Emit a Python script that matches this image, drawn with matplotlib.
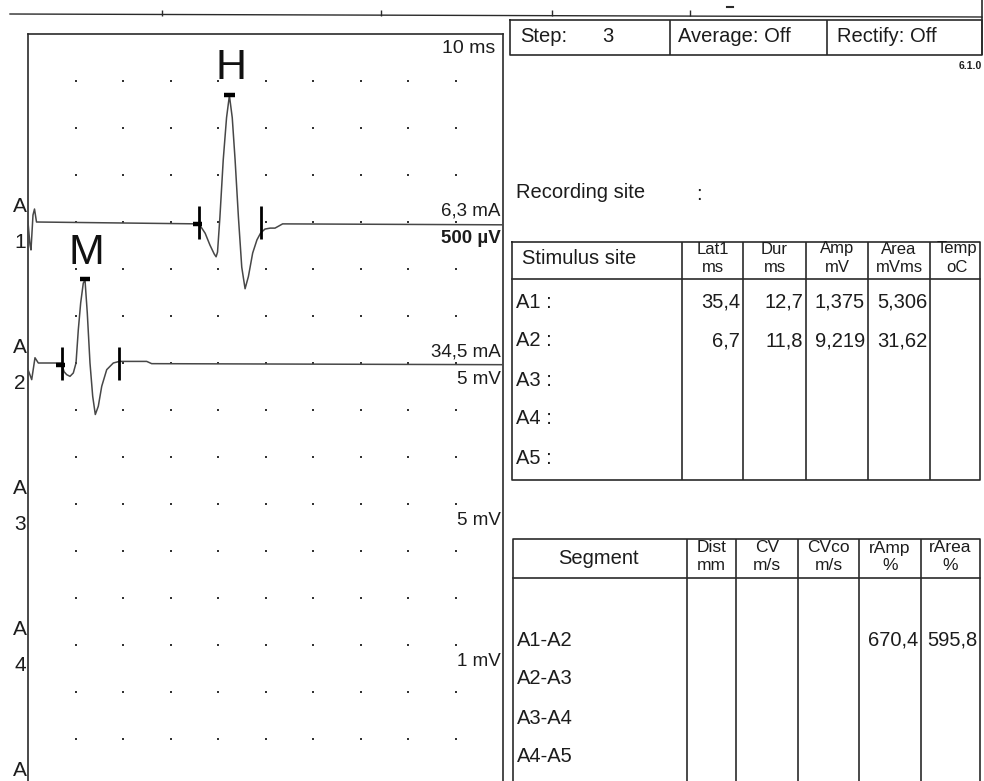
import matplotlib
matplotlib.use("Agg")
import matplotlib.pyplot as plt
import numpy as np

W, H = 984, 781
PX_DIV = 47.0          # pixels per grid division on screen

# --- traces: time in ms, amplitude in channel units ---
a1_t = [0, 0.42, 0.63, 1.05, 1.37, 1.79, 36.0, 37.3, 38.3, 39.2, 39.6, 39.9,
        40.4, 41.1, 41.8, 42.4, 43.0, 43.6, 44.3, 45.0, 45.7, 46.4, 47.3,
        48.2, 49.0, 49.9, 51.0, 52.0, 52.9, 53.6, 100]
a1_uv = [0, -244, -297, 74, 138, 0, -20, -120, -245, -340, -370, -320,
         50, 660, 1110, 1345, 1110, 660, 50, -480, -710, -580, -330,
         -190, -115, -75, -65, -65, -40, -20, -30]

a2_t = [0, 0.78, 1.47, 2.17, 7.09, 7.58, 8.15, 8.84, 9.54, 10.11, 10.59,
        11.09, 11.64, 12.0, 12.48, 13.05, 13.62, 14.17, 14.8, 15.52, 16.57,
        17.96, 19.22, 24.99, 26.04, 100]
a2_mv = [-0.7, -1.77, 0.56, 0, 0, -0.92, -1.24, -1.42, -1.06, 0, 3.53,
         6.39, 8.5, 8.82, 5.33, 0, -3.54, -5.48, -4.6, -2.48, -0.71,
         0, 0.17, 0.17, -0.07, -0.18]

chan_num = ["1", "2", "3", "4", ""]
chan_base = [-4, -7, -10, -13, -16]
stim_lbl = ["6,3 mA", "34,5 mA", "", "", ""]
sens_lbl = ["500 µV", "5 mV", "5 mV", "1 mV", ""]

cursor_on = [36.0, 7.09]
cursor_off = [49.05, 19.22]
wave_name = ["H", "M"]

# --- report texts ---
step_txt = ["Step:", "3", "Average: Off", "Rectify: Off"]
stim_hdr = [("Lat1", "ms"), ("Dur", "ms"), ("Amp", "mV"), ("Area", "mVms"), ("Temp", "oC")]
stim_site = ["A1", "A2", "A3", "A4", "A5"]
lat1 = [35.4, 6.7]
dur = [12.7, 11.8]
amp = [1.375, 9.219]
area = [5.306, 31.62]
seg_hdr = [("Dist", "mm"), ("CV", "m/s"), ("CVco", "m/s"), ("rAmp", "%"), ("rArea", "%")]
segments = ["A1-A2", "A2-A3", "A3-A4", "A4-A5"]
ramp = [670.4]
rarea = [595.8]

FONT = ["Liberation Sans", "DejaVu Sans"]
INK = "#1c1c1c"
LINE = "#2a2a2a"
TXT = 14.5        # report text size
HDR = 12          # small two-line column headers

fig = plt.figure(figsize=(W / 100, H / 100), dpi=100)
fig.patch.set_facecolor("white")

# ---------------- waveform panel ----------------
ax = fig.add_axes([28 / W, 0, 475 / W, 747 / H])
ax.set_xlim(0, 100)
ax.set_ylim(-747 / PX_DIV, 0)
ax.set_xticks([])
ax.set_yticks([])
ax.spines["bottom"].set_visible(False)
for s in ["left", "top", "right"]:
    ax.spines[s].set_linewidth(1.2)
    ax.spines[s].set_color(LINE)

gx, gy = np.meshgrid(np.arange(10, 100, 10), np.arange(-1, -16, -1))
ax.plot(gx.ravel(), gy.ravel(), "s", ms=1.6, color="#333333", mew=0)

traces = [(a1_t, np.array(a1_uv) / 500.0), (a2_t, np.array(a2_mv) / 5.0)]
for i, (t, v) in enumerate(traces):
    b = chan_base[i]
    ax.plot(t, b + v, color="#474747", lw=1.1, zorder=3)
    # latency cursors
    for c in (cursor_on[i], cursor_off[i]):
        ax.plot([c, c], [b - 0.36, b + 0.34], color="k", lw=2.0,
                solid_capstyle="butt", zorder=4)
    ax.plot([cursor_on[i] - 1.3, cursor_on[i] + 0.7], [b - 0.05, b - 0.05],
            color="k", lw=3.2, solid_capstyle="butt", zorder=4)
    # peak marker and wave name
    k = int(np.argmax(v))
    ax.plot([t[k] - 1.1, t[k] + 1.1], [b + v[k] + 0.02] * 2, color="k", lw=3.2,
            solid_capstyle="butt", zorder=4)
    ax.text(t[k] + 0.3, b + v[k] + 0.58, wave_name[i], fontsize=31,
            family=FONT, ha="center", va="center", color="#111")

for i, b in enumerate(chan_base):
    ax.text(-1.7, b + 0.34, "A", fontsize=15, family=FONT, ha="center",
            va="center", color=INK, clip_on=False)
    if chan_num[i]:
        ax.text(-1.7, b - 0.44, chan_num[i], fontsize=15, family=FONT,
                ha="center", va="center", color=INK, clip_on=False)
    if stim_lbl[i]:
        ax.text(99.5, b + 0.24, stim_lbl[i], fontsize=13.5, family=FONT,
                ha="right", va="center", color=INK)
    if sens_lbl[i]:
        ax.text(99.5, b - 0.35, sens_lbl[i], fontsize=13.5, family=FONT,
                ha="right", va="center", color=INK,
                fontweight="semibold" if i == 0 else "normal")
ax.text(98.3, -0.31, "10 ms", fontsize=14, family=FONT, ha="right",
        va="center", color=INK)

# ---------------- report side (screen pixel layout) ----------------
ov = fig.add_axes([0, 0, 1, 1])
ov.set_xlim(0, W)
ov.set_ylim(H, 0)
ov.axis("off")
ov.patch.set_alpha(0)


def box(x0, x1, y0, y1):
    ov.plot([x0, x1, x1, x0, x0], [y0, y0, y1, y1, y0], color=LINE, lw=1.2)


# top ruler
ov.plot([10, 982], [14, 17], color=LINE, lw=1.0)
ov.vlines([162, 381, 552, 690], 10, 16, color=LINE, lw=1.0)
ov.vlines([982], 0, 55, color=LINE, lw=1.2)
ov.plot([727, 733], [7, 7], color=LINE, lw=1.5)

# step / average / rectify strip
box(510, 982, 20, 55)
ov.vlines([670, 827], 20, 55, color=LINE, lw=1.2)
for x, s, ha in zip([520, 608, 678, 837], step_txt, ["left", "center", "left", "left"]):
    ov.text(x, 37, s, fontsize=TXT, family=FONT, ha=ha, va="center", color=INK)
ov.text(982, 66, "6.1.0", fontsize=7.5, family=FONT, fontweight="bold",
        ha="right", va="center", color=INK)

ov.text(516, 193, "Recording site", fontsize=TXT, family=FONT, ha="left",
        va="center", color=INK)
ov.text(699, 195, ":", fontsize=TXT, family=FONT, ha="center", va="center",
        color=INK)

# stimulus table
s_cols = [682, 743, 806, 868, 930, 980]
box(512, 980, 242, 480)
ov.plot([512, 980], [279, 279], color=LINE, lw=1.2)
ov.vlines(s_cols[:-1], 242, 480, color=LINE, lw=1.2)
ov.text(522, 259, "Stimulus site", fontsize=TXT, family=FONT, ha="left",
        va="center", color=INK)
for j, (h1, h2) in enumerate(stim_hdr):
    xc = (s_cols[j] + s_cols[j + 1]) / 2 + (2 if j == 4 else 0)
    ov.text(xc, 249, h1, fontsize=HDR, family=FONT, ha="center", va="center", color=INK)
    ov.text(xc, 267, h2, fontsize=HDR, family=FONT, ha="center", va="center", color=INK)
for i, s in enumerate(stim_site):
    ov.text(516, 302 + 39 * i, s + " :", fontsize=TXT, family=FONT,
            ha="left", va="center", color=INK)
cols = [(lat1, "{:.1f}"), (dur, "{:.1f}"), (amp, "{:.3f}"), (area, "{:.4g}")]
for j, (vals, fmt) in enumerate(cols):
    for i, v in enumerate(vals):
        ov.text(s_cols[j + 1] - 3, 302 + 39 * i, fmt.format(v).replace(".", ","),
                fontsize=TXT, family=FONT, ha="right", va="center", color=INK)

# segment table
g_cols = [687, 736, 798, 859, 921, 980]
ov.plot([513, 513, 980, 980], [H + 5, 539, 539, H + 5], color=LINE, lw=1.2)
ov.plot([513, 980], [578, 578], color=LINE, lw=1.2)
ov.vlines(g_cols[:-1], 539, H + 5, color=LINE, lw=1.2)
ov.text(598, 558, "Segment", fontsize=TXT, family=FONT, ha="center",
        va="center", color=INK)
for j, (h1, h2) in enumerate(seg_hdr):
    xc = (g_cols[j] + g_cols[j + 1]) / 2
    ov.text(xc, 548, h1, fontsize=HDR + 0.5, family=FONT, ha="center", va="center", color=INK)
    ov.text(xc, 566, h2, fontsize=HDR + 0.5, family=FONT, ha="center", va="center", color=INK)
for i, s in enumerate(segments):
    ov.text(517, 640 + 39 * i, s, fontsize=TXT, family=FONT, ha="left",
            va="center", color=INK)
for i, v in enumerate(ramp):
    ov.text(g_cols[4] - 3, 640 + 39 * i, "{:.1f}".format(v).replace(".", ","),
            fontsize=TXT, family=FONT, ha="right", va="center", color=INK)
for i, v in enumerate(rarea):
    ov.text(g_cols[5] - 2, 640 + 39 * i, "{:.1f}".format(v).replace(".", ","),
            fontsize=TXT, family=FONT, ha="right", va="center", color=INK)

fig.savefig("out.png", dpi=100, facecolor="white")
